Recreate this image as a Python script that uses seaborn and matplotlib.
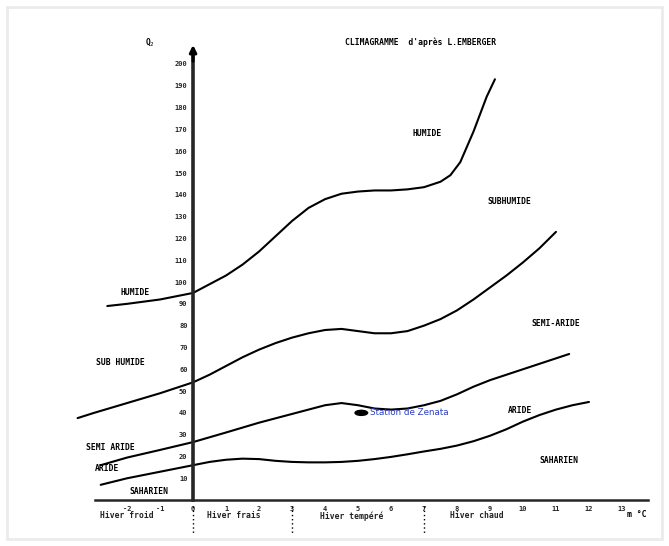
import matplotlib
matplotlib.use("Agg")
import matplotlib.pyplot as plt
from matplotlib.patches import Ellipse
import seaborn as sns
import pandas as pd

# boundaries between bioclimatic zones (m in degC, Q2)
humide_x = [-2.6, -2, -1, 0, 0.5, 1, 1.5, 2, 2.5, 3, 3.5, 4, 4.5, 5, 5.5, 6,
            6.5, 7, 7.5, 7.8, 8.1, 8.3, 8.5, 8.7, 8.9, 9.15]
humide_y = [89, 90, 92, 95, 99, 103, 108, 114, 121, 128, 134, 138, 140.5,
            141.5, 142, 142, 142.5, 143.5, 146, 149, 155, 162, 169, 177, 185, 193]

subhum_x = [-3.5, -3, -2, -1, 0, 0.5, 1, 1.5, 2, 2.5, 3, 3.5, 4, 4.5, 5, 5.5,
            6, 6.5, 7, 7.5, 8, 8.5, 9, 9.5, 10, 10.5, 11]
subhum_y = [37.6, 40, 44.5, 49, 54, 57.5, 61.5, 65.5, 69, 72, 74.5, 76.5, 78,
            78.5, 77.5, 76.5, 76.5, 77.5, 80, 83, 87, 92, 97.5, 103, 109, 115.5, 123]

semi_x = [-2.8, -2, -1, 0, 1, 2, 3, 3.5, 4, 4.5, 5, 5.5, 6, 6.5, 7, 7.5, 8,
          8.5, 9, 9.5, 10, 10.5, 11, 11.4]
semi_y = [16, 19.5, 23, 26.6, 31, 35.5, 39.5, 41.5, 43.5, 44.5, 43.5, 42,
          41.5, 42, 43.5, 45.5, 48.5, 52, 55, 57.5, 60, 62.5, 65, 67]

aride_x = [-2.8, -2, -1, 0, 0.5, 1, 1.5, 2, 2.5, 3, 3.5, 4, 4.5, 5, 5.5, 6,
           6.5, 7, 7.5, 8, 8.5, 9, 9.5, 10, 10.5, 11, 11.5, 12]
aride_y = [7, 10, 13, 16, 17.5, 18.5, 19, 18.8, 18, 17.5, 17.3, 17.3, 17.5,
           18, 18.8, 19.8, 21, 22.3, 23.5, 25, 27, 29.5, 32.5, 36, 39, 41.5,
           43.5, 45]

x_ticks = list(range(-2, 14))
y_ticks = list(range(10, 210, 10))

station_m, station_q2 = 5.1, 40

sns.set_style("white")
fig = plt.figure(figsize=(6.69, 5.46), dpi=100)
ax = fig.add_axes([70 / 669, 1 / 546, 580 / 669, 505 / 546])
ax.set_xlim(-3.73, 13.85)
ax.set_ylim(-20.6, 211)

for xs, ys in [(humide_x, humide_y), (subhum_x, subhum_y),
               (semi_x, semi_y), (aride_x, aride_y)]:
    df = pd.DataFrame({"m": xs, "Q2": ys})
    sns.lineplot(data=df, x="m", y="Q2", sort=False, color="black",
                 linewidth=1.5, ax=ax)

ax.add_patch(Ellipse((station_m, station_q2), 0.38, 2.3, color="black",
                     zorder=5))
ax.text(station_m + 0.25, station_q2, "Station de Zenata", color="#2b3fbf",
        fontsize=6.3, va="center", ha="left")

# axes
for s in ["top", "right"]:
    ax.spines[s].set_visible(False)
ax.spines["left"].set_position(("data", 0))
ax.spines["bottom"].set_position(("data", 0))
ax.spines["left"].set_linewidth(2.6)
ax.spines["bottom"].set_linewidth(1.8)
ax.spines["left"].set_bounds(0, 205)
ax.spines["bottom"].set_bounds(-2.97, 13.8)
ax.annotate("", xy=(0, 210), xytext=(0, 200),
            arrowprops=dict(arrowstyle="-|>", color="black", lw=2.2))

ax.set_xticks(x_ticks)
ax.set_xticklabels([str(v) for v in x_ticks])
ax.set_yticks(y_ticks)
ax.set_yticklabels([str(v) for v in y_ticks])
ax.tick_params(axis="both", direction="inout", length=4, width=1,
               labelsize=5, pad=2)
for lab in ax.get_xticklabels() + ax.get_yticklabels():
    lab.set_fontweight("bold")
    lab.set_family("DejaVu Sans Mono")
ax.set_xlabel("")
ax.set_ylabel("")

lab_kw = dict(fontsize=5.8, fontweight="bold", family="DejaVu Sans Mono",
              color="black")
ax.text(-1.3, 210, "Q$_2$", ha="center", va="center", **lab_kw)
ax.text(13.45, -6.5, "m °C", ha="center", va="center", **lab_kw)
ax.text(6.9, 210, "CLIMAGRAMME  d'après L.EMBERGER", ha="center",
        va="center", **lab_kw)

zones = [("HUMIDE", 7.1, 168), ("SUBHUMIDE", 9.6, 137),
         ("SEMI-ARIDE", 11.0, 81), ("ARIDE", 9.9, 41),
         ("SAHARIEN", 11.1, 18), ("HUMIDE", -1.75, 95),
         ("SUB HUMIDE", -2.2, 63), ("SEMI ARIDE", -2.5, 24),
         ("ARIDE", -2.6, 14.5), ("SAHARIEN", -1.35, 3.8)]
for txt, zx, zy in zones:
    ax.text(zx, zy, txt, ha="center", va="center", **lab_kw)

winters = [("Hiver froid", -2.0), ("Hiver frais", 1.25),
           ("Hiver tempéré", 4.8), ("Hiver chaud", 8.6)]
for txt, wx in winters:
    ax.text(wx, -7.3, txt, ha="center", va="center", fontsize=5.8,
            family="DejaVu Sans Mono", fontweight="bold", color="#222222")
for dx in [0, 3, 7]:
    ax.plot([dx, dx], [-2.5, -16], color="black", lw=1, ls=(0, (1, 2)))

fig.patches.append(plt.Rectangle((7 / 669, 7 / 546), 655 / 669, 532 / 546,
                                 transform=fig.transFigure, fill=False,
                                 edgecolor="#ebebeb", lw=2))

fig.savefig("out.png", dpi=100)
